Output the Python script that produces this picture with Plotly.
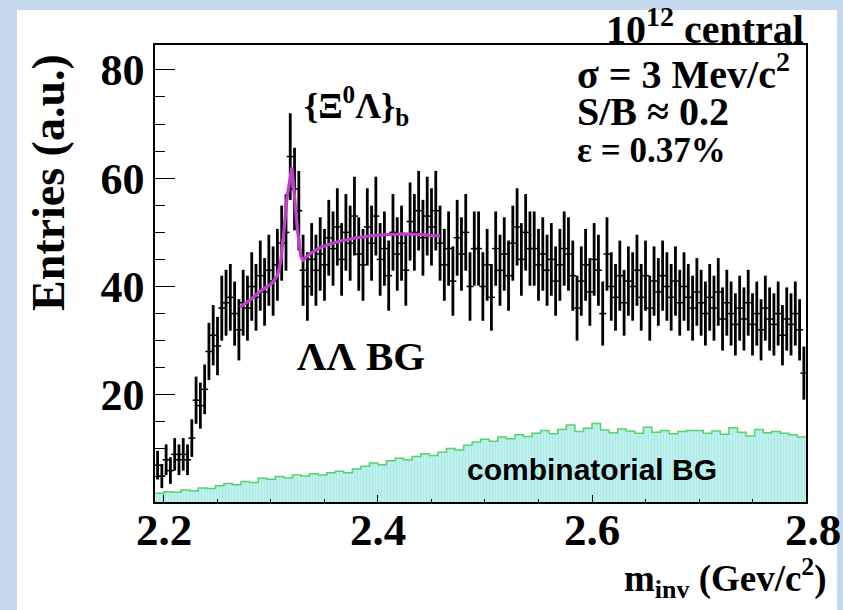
import numpy as np
import plotly.graph_objects as go

# ---------------- data ----------------
BIN_LO = 2.192
BIN_W = 0.004
entries = [7, 5, 8, 6, 9, 8, 9, 8, 12, 19,
           18, 21, 28, 31, 29, 36, 37, 38, 35, 32,
           37, 36, 40, 38, 42, 39, 43, 41, 44, 48,
           50, 64, 58, 54, 43, 40, 45, 43, 46, 44,
           49, 47, 51, 45, 50, 48, 53, 46, 44, 51,
           48, 53, 45, 47, 42, 50, 46, 48, 43, 52,
           50, 54, 49, 53, 51, 54, 48, 44, 47, 41,
           49, 46, 50, 40, 47, 47, 40, 44, 38, 47,
           43, 46, 42, 48, 51, 45, 50, 47, 47, 44,
           46, 43, 45, 41, 44, 47, 46, 42, 36, 41,
           44, 39, 45, 43, 35, 46, 40, 38, 42, 37,
           41, 40, 43, 38, 42, 36, 41, 39, 42, 40,
           38, 41, 37, 40, 38, 36, 39, 37, 35, 38,
           36, 39, 34, 37, 35, 33, 36, 34, 37, 33,
           35, 32, 36, 34, 33, 35, 31, 34, 33, 35,
           32, 24]

COMB_LO = 2.192
COMB_W = 0.008
comb_bg = [1.8, 2.1, 2.0, 2.4, 2.3, 2.8, 2.7, 3.2, 3.6, 3.4,
           4.0, 3.8, 4.6, 4.4, 4.9, 4.7, 5.2, 5.0, 5.4, 5.2,
           5.6, 5.9, 5.6, 6.3, 6.8, 7.4, 7.1, 7.8, 8.3, 8.0,
           8.6, 9.1, 8.8, 9.4, 10.1, 9.8, 10.7, 11.3, 11.8, 11.4,
           12.2, 11.9, 12.6, 12.3, 12.9, 13.4, 12.8, 13.6, 14.4, 13.2,
           13.8, 14.7, 13.5, 13.0, 13.7, 13.3, 12.9, 14.0, 13.1, 13.4,
           12.8, 13.2, 13.4, 13.4, 12.9, 13.3, 12.7, 13.9, 13.1, 12.4,
           13.6, 13.0, 13.2, 12.9, 12.6, 12.2]

fit_x = [2.271, 2.281, 2.291, 2.301, 2.306, 2.309, 2.312, 2.315, 2.3195,
         2.322, 2.325, 2.328, 2.330, 2.336, 2.346, 2.356, 2.365, 2.380,
         2.395, 2.410, 2.425, 2.440, 2.458]
fit_y = [36.2, 37.6, 39.3, 40.6, 42.0, 44.5, 50.0, 56.5, 62.0,
         57.0, 50.0, 45.5, 44.9, 46.0, 47.2, 47.9, 48.4, 49.0,
         49.4, 49.6, 49.7, 49.6, 49.3]

x_ticks = [2.2, 2.4, 2.6, 2.8]
x_tick_labels = ["2.2", "2.4", "2.6", "2.8"]
y_ticks = [20, 40, 60, 80]
y_tick_labels = ["20", "40", "60", "80"]

# ---------------- layout geometry (pixels) ----------------
W, H = 843, 610
L, R, T, B = 155, 806, 45, 502


def px(x):
    return (x - L) / (R - L)


def py(y):
    return (B - y) / (B - T)


centers = BIN_LO + BIN_W * (np.arange(len(entries)) + 0.5)
errs = np.sqrt(np.array(entries, dtype=float))
comb_centers = COMB_LO + COMB_W * (np.arange(len(comb_bg)) + 0.5)
comb_edges = COMB_LO + COMB_W * np.arange(len(comb_bg) + 1)

SERIF = "Liberation Serif"
SANS = "Liberation Sans"

fig = go.Figure()

fig.add_trace(go.Bar(
    x=comb_centers, y=comb_bg, width=COMB_W,
    marker=dict(color="#bdf1ee", line=dict(width=0),
                pattern=dict(shape="|", size=3, solidity=0.25,
                             fgcolor="#94d9de", bgcolor="#bdf1ee")),
    showlegend=False, hoverinfo="skip"))

fig.add_trace(go.Scatter(
    x=list(comb_edges), y=list(comb_bg) + [comb_bg[-1]],
    mode="lines", line=dict(shape="hv", color="#58d26a", width=1.5),
    showlegend=False, hoverinfo="skip"))

fig.add_trace(go.Scatter(
    x=centers, y=entries, mode="markers",
    marker=dict(symbol="line-ew-open", size=5, color="black",
                line=dict(width=1.5, color="black")),
    error_y=dict(type="data", array=errs, visible=True,
                 color="black", thickness=2.8, width=0),
    showlegend=False))

fig.add_trace(go.Scatter(
    x=fit_x, y=fit_y, mode="lines",
    line=dict(color="#c23fcc", width=3.2),
    showlegend=False))

annotations = [
    dict(text="<b>10<sup>12</sup> central</b>", x=px(806), y=py(27),
         xanchor="right", yanchor="middle", font=dict(family=SERIF, size=40)),
    dict(text="<b>σ = 3 Mev/c<sup>2</sup></b>", x=px(575), y=py(71),
         xanchor="left", yanchor="middle", font=dict(family=SERIF, size=40)),
    dict(text="<b>S/B ≈ 0.2</b>", x=px(575), y=py(111),
         xanchor="left", yanchor="middle", font=dict(family=SERIF, size=40)),
    dict(text="<b>ε = 0.37%</b>", x=px(575), y=py(150),
         xanchor="left", yanchor="middle", font=dict(family=SERIF, size=35)),
    dict(text="<b>{Ξ<sup>0</sup>Λ}<sub>b</sub></b>", x=px(302), y=py(106),
         xanchor="left", yanchor="middle", font=dict(family=SERIF, size=36)),
    dict(text="<b>ΛΛ BG</b>", x=px(295), y=py(356),
         xanchor="left", yanchor="middle", font=dict(family=SERIF, size=41)),
    dict(text="<b>combinatorial BG</b>", x=px(465), y=py(469),
         xanchor="left", yanchor="middle", font=dict(family=SANS, size=30)),
    dict(text="<b>Entries (a.u.)</b>", x=px(48), y=py(183), textangle=-90,
         xanchor="center", yanchor="middle", font=dict(family=SERIF, size=46)),
    dict(text="<b>m<sub>inv</sub> (Gev/c<sup>2</sup>)</b>", x=px(829), y=py(578),
         xanchor="right", yanchor="middle", font=dict(family=SERIF, size=37)),
]
for a in annotations:
    a.update(xref="paper", yref="paper", showarrow=False, font_color="black")

# x tick labels drawn as annotations at the axis tick values
for v, t in zip(x_ticks, x_tick_labels):
    annotations.append(dict(
        text="<b>%s</b>" % t, x=v, xref="x", y=py(530), yref="paper",
        xanchor="center", yanchor="middle", showarrow=False,
        xshift=7 if v == x_ticks[-1] else 0,
        font=dict(family=SERIF, size=45, color="black")))

fig.update_layout(
    width=W, height=H,
    margin=dict(l=L, r=W - R, t=T, b=H - B, pad=0),
    paper_bgcolor="#c6d8ee",
    plot_bgcolor="rgba(0,0,0,0)",
    shapes=[dict(type="rect", xref="paper", yref="paper",
                 x0=px(17), x1=px(837), y0=py(615), y1=py(10),
                 fillcolor="white", line=dict(width=0), layer="below")],
    annotations=annotations,
    bargap=0,
    xaxis=dict(range=[2.1916, 2.8], showgrid=False, zeroline=False,
               showline=True, linecolor="black", linewidth=1.5, mirror=True,
               ticks="inside", ticklen=7, tickwidth=1.2, tickcolor="black",
               tickvals=x_ticks, showticklabels=False,
               minor=dict(dtick=0.05, tick0=2.2, ticks="inside", ticklen=3,
                          tickcolor="black", tickwidth=1)),
    yaxis=dict(range=[0.2, 84.6], showgrid=False, zeroline=False,
               showline=True, linecolor="black", linewidth=1.5, mirror=True,
               ticks="inside", ticklen=20, tickwidth=1.2, tickcolor="black",
               tickvals=y_ticks, ticktext=y_tick_labels,
               tickfont=dict(family=SERIF, size=44, color="black", weight="bold"),
               minor=dict(dtick=5, tick0=0, ticks="inside", ticklen=10,
                          tickcolor="black", tickwidth=1)),
)

fig.write_html("out.html")
